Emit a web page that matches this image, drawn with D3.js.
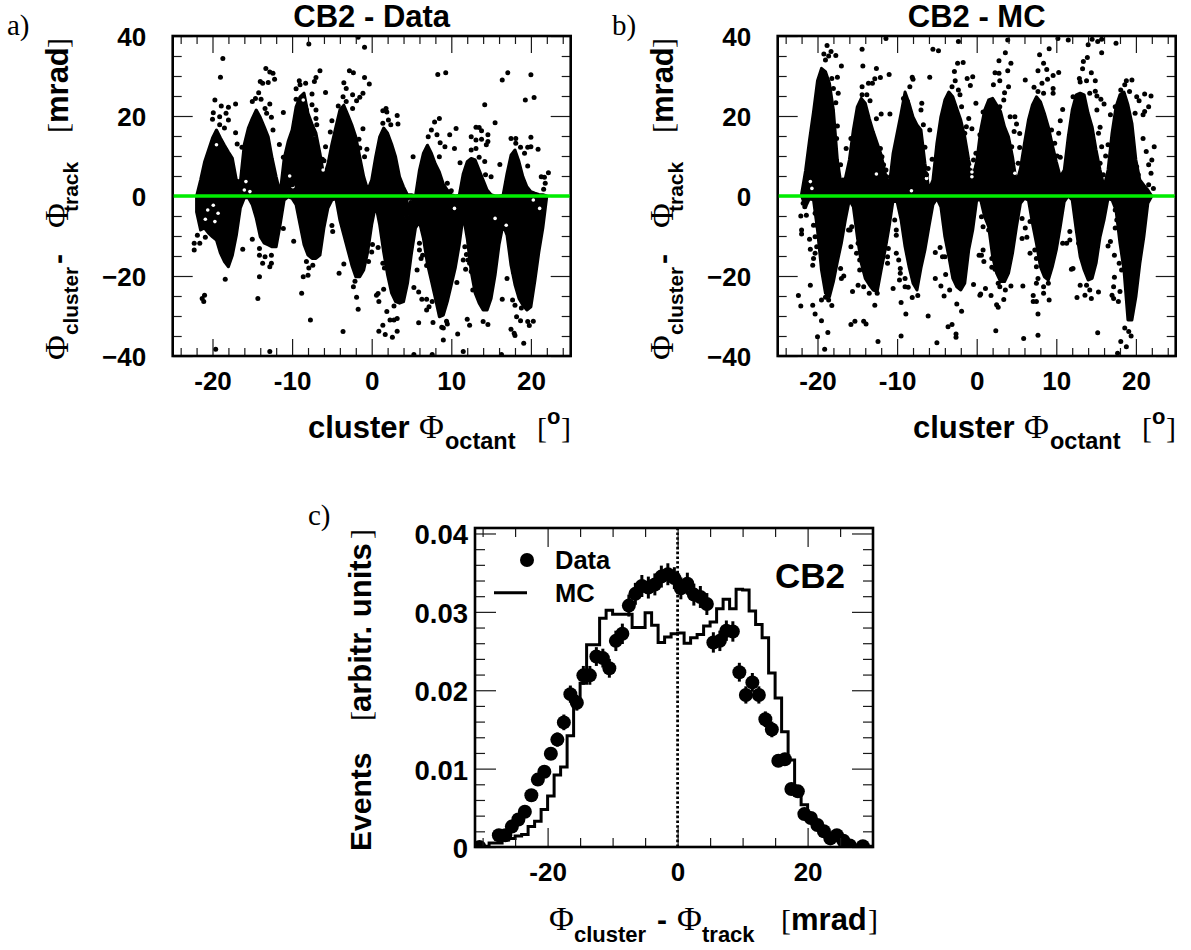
<!DOCTYPE html>
<html><head><meta charset="utf-8">
<script src="https://cdn.jsdelivr.net/npm/d3@7"></script>
<style>html,body{margin:0;padding:0;background:#fff}svg{display:block}</style>
</head><body>
<svg id="chart" width="1191" height="950"></svg>
<script>
// scatter silhouette grid (degrees)
const phiGrid = [-22,-21.5,-21,-20.5,-20,-19.5,-19,-18.5,-18,-17.5,-17,-16.5,-16,-15.5,-15,-14.5,-14,-13.5,-13,-12.5,-12,-11.5,-11,-10.5,-10,-9.5,-9,-8.5,-8,-7.5,-7,-6.5,-6,-5.5,-5,-4.5,-4,-3.5,-3,-2.5,-2,-1.5,-1,-0.5,0,0.5,1,1.5,2,2.5,3,3.5,4,4.5,5,5.5,6,6.5,7,7.5,8,8.5,9,9.5,10,10.5,11,11.5,12,12.5,13,13.5,14,14.5,15,15.5,16,16.5,17,17.5,18,18.5,19,19.5,20,20.5,21,21.5,22];
// panel a: dense cloud, upper and lower edge (mrad)
const dataTop = [0,4,8.5,11.5,14.5,16.5,14.5,12.7,11,9.4,4,3.6,13,17,19.4,21.5,19.7,17.3,14.8,9.4,4.8,0.7,9.4,13.6,16.5,22.3,24.8,25.7,20.7,18,15.7,10.7,4.8,8,13,17.3,21.5,22.7,20.3,17.8,14.8,9.8,4.8,1.5,4,9.8,14.8,17,15.7,13,9.8,4.8,2.3,0.3,0.3,0,6.5,10.7,12.7,10.7,8,6,3,1.5,0.3,0,0.2,5.6,8.6,9.4,9,6.5,4,1.5,0.3,0,0,0.2,5.6,10.2,11.5,8.6,4.8,2.3,1.1,0.7,0.4,0.3,0];
const dataBottom = [-4,-8.5,-8,-9.3,-10.2,-11,-14.3,-16.4,-17.7,-14.8,-9.8,-3,-0.5,-0.4,-2.2,-5.6,-10.2,-11.8,-12.2,-12.7,-12.7,-7.2,-1,-0.2,-0.6,-2.2,-7.2,-12.2,-14.8,-15.6,-15.6,-14.8,-8,-3,-1,-0.6,-6,-9.8,-13.5,-17.3,-20.2,-20.2,-18.5,-14,-7.2,-2.2,-7.2,-14,-19.8,-24.3,-26.4,-26.8,-26.4,-21.8,-14.3,-8,-6.5,-10.6,-17,-21.2,-25.6,-30.2,-29.8,-26.4,-22.2,-18,-12.2,-4.8,-10.6,-18.9,-24.3,-26.8,-28.5,-28.5,-25.6,-19.8,-12.2,-7.2,-9.8,-17.3,-22.2,-25.6,-27.3,-28.5,-27.7,-21.2,-14,-8,0];
const dataGaps = [[-20.9,-5.8],[-19.7,-6.4],[-20.6,-3.5],[-19.3,-4.3],[-19.9,-2.3],[-19.5,12.8],[-7.2,14.4],[-8.6,24],[-15.8,3.6],[-15.3,1.1],[-9.9,2.3],[-6.1,6.5],[4.8,-1.4],[4.4,-5.2],[10.4,-3.1],[15.5,-5.6],[16.9,-7.3],[20.3,-1],[21.1,-3.1],[-16,1.5],[-10.3,5]];
const dataStray = [[-18.7,34.4],[-19,29.7],[-19.7,24],[-19.9,20.8],[-20,19.2],[-19.1,19.8],[-18.9,22.5],[-18,22.2],[-17.1,23],[-18.3,20.7],[-18,19],[-18.5,17],[-19.1,17.8],[-17.1,15.8],[-16.9,13],[-16.3,12.2],[-13.3,31.9],[-12.8,31],[-12.4,30.7],[-12.2,29.2],[-14,28.6],[-13.7,28.2],[-13,28.4],[-14.2,25.8],[-14.6,24.4],[-15,23.6],[-13.9,24.2],[-12.8,23],[-13.4,21.9],[-13.2,20.7],[-12.6,19.7],[-12.4,16.5],[-11.6,12.9],[-11.1,20.9],[-11.1,9.7],[-10,2.8],[-7.9,38],[-6.5,31.3],[-7,29.6],[-7.2,28.6],[-9.1,28.8],[-9.5,26.8],[-9,27.8],[-8.3,28.2],[-7.5,25.5],[-5.8,25.9],[-9.5,24.2],[-8.2,21.5],[-7.5,22.8],[-7,21.5],[-7,19.4],[-6.9,17.8],[-7.2,14.3],[-5,18.8],[-5.2,16],[-5.8,12.3],[-6.2,9.2],[-6,8.8],[-2.8,31.3],[-2.3,30.8],[-3.5,28.3],[-3.2,26.9],[-2.4,25.3],[-1.1,25.7],[-1.5,24.7],[-1.9,23.8],[-0.9,29.6],[-0.3,28],[-3.6,24.8],[-3.2,23.6],[-2.4,21.9],[-4.2,22.5],[-1.7,39.7],[-0.9,37.2],[-1.1,16.8],[-1.6,14.2],[-1.5,12],[-0.6,11.7],[-0.9,9.8],
[8.3,30.4],[9.3,30.8],[16.4,29],[17.1,30.8],[20,30.3],[19.3,24],[20.4,24.6],[14.2,22.8],[15.5,18.3],[1.4,21.3],[1.8,21.9],[1.9,21],[3.2,20.1],[3.3,18],[2.1,19],[1.4,18.2],[2.4,17.8],[8.5,19.4],[7.9,18.5],[10.6,16.9],[9.8,15.3],[7.5,16.5],[8.2,15.3],[7.1,14.8],[8.6,13.3],[9.2,12.3],[10.4,11.9],[5.2,9.8],[11.1,8.3],[8.5,9.8],[9.5,3.2],[10,1.3],[13.1,17.2],[13.5,17.1],[13.8,16.3],[12.5,14.8],[14.6,15.3],[13.1,14],[13.8,14.2],[14.6,13.6],[14.4,12.8],[12.5,11.5],[13.1,11.9],[13.5,9.7],[14.2,8.6],[16.1,7.9],[14.3,5.3],[15,4.8],[17.5,14.4],[18.1,14.4],[20,14.7],[18.7,12.2],[19.6,12.2],[20,12.3],[20.9,11.7],[19.2,10.7],[19.6,7.5],[21.3,4.8],[22.2,5.8],[21.7,4.7],[21.8,3.2],[21.6,1.7],[18.1,13.2],
[-22.3,-13.5],[-22.3,-11.8],[-21.6,-11.8],[-21.9,-9.8],[-20.9,-10.3],[-21,-24.8],[-21.3,-25.6],[-21.1,-26.4],[-18.4,-20.8],[-19.6,-38.3],[-16.2,-13.3],[-15,-10.8],[-14.1,-13.1],[-14.1,-14.8],[-13.4,-15.2],[-12.6,-14.8],[-13.7,-16.8],[-12.6,-16.8],[-12.8,-17.7],[-14.1,-20.2],[-14.3,-25.6],[-12.8,-38.9],[-9.8,-11.3],[-11.1,-8.1],[-8.6,-20.2],[-8,-19.8],[-8.8,-24.3],[-7.7,-31],[-8.2,-16.4],[-7.4,-17.3],[-7.9,-18],[-5,-7.4],[-4.9,-8.9],[-3.5,-17],[-4.1,-19.3],[-3.6,-33.9],[-2.3,-22.7],[-1.9,-25.3],[-1.7,-28.3],[-0.4,-16.4],[-2.1,-21.3],
[0.1,-12.1],[0,-14],[0.8,-12.9],[1.4,-16.8],[1.6,-18],[0.6,-24.8],[0.8,-24.4],[0.9,-26.4],[1.5,-23.3],[2.8,-27.5],[1.9,-28.9],[2.3,-31],[2.8,-31],[3.2,-30.6],[1.4,-32.3],[0.9,-33.8],[1.7,-34.6],[2.6,-35.3],[3.2,-33.8],[5.3,-22.9],[5.9,-24],[5.7,-18.5],[6.3,-25.8],[6.9,-25.8],[7.6,-26.4],[7.2,-27.7],[6.9,-28.5],[5.9,-31.7],[7.7,-31.6],[8.8,-32.8],[9,-33],[9.4,-31.3],[9.5,-32],[10.8,-34.5],[9,-36],[11.5,-38.9],[7.6,-39.6],[5.3,-39.6],[10.7,-21.6],[12,-30.8],[12.3,-32.3],[14,-31.4],[14.6,-32.1],[16.4,-25.8],[16.3,-39.6],[17,-20.6],[17.8,-19],[17.7,-26],[18,-27.3],[18.2,-30.2],[18.7,-31.2],[17.5,-33.3],[17.9,-34.3],[18,-34.9],[19.1,-36.8],[19.6,-31.4],[20.3,-31.3],[19.8,-32.4],[18.8,-28],[6,-11.8],[6,-13.5],[6.4,-14.8],[6.2,-15.6],[6.9,-17.4],[11.7,-12.7],[11.9,-14.6],[11.5,-16],[12.1,-16],[12.3,-16.8],[11.8,-18.3],[12.5,-18.9],[12.7,-23.5],[4.9,-1.6],[4.4,-5.2]];
// panel b: dense cloud, upper and lower edge (mrad)
const mcTop = [0.5,6.4,14.1,21.1,28.8,31.9,31.1,28.2,21.5,9,2.3,4.4,9,16.5,22.3,24.4,23.2,19.4,16.1,13.2,10.3,5.7,2.3,10.7,15.7,20.7,26,23.2,19.8,17.8,16.5,8.2,1.5,4,13.2,19.8,24,26,24.8,21.9,19,14.8,9,4.8,8.6,16.5,21.5,24,24.4,22.8,21.1,17.3,14.8,9.8,3.2,6.9,13.2,19,22.8,24.8,23.6,20.7,17.3,12.8,8.6,4.8,6.5,14.8,21.5,25.3,25.7,25.3,20.7,17.3,11.5,6.5,2.3,6.5,15.7,22.3,25.3,26,22.8,18.2,9,4,2.7,1.5,0];
const mcBottom = [0,-2.7,-0.6,-1,-8.5,-18.5,-24.3,-25.2,-21.4,-16.4,-11.8,-6,-1,-2.7,-10.2,-16.8,-20.6,-22.2,-23.5,-23.9,-18.5,-13.5,-7.7,-1,-1.4,-6,-12.7,-17.7,-21.8,-23.5,-18,-13.5,-7.7,-2.2,-0.6,-2.7,-10.2,-15.2,-20.6,-22.7,-23.5,-21.8,-13.5,-8.5,-1,-1,-5.2,-7.7,-15.2,-19.3,-21.4,-21.4,-19.3,-14.3,-7.7,-1.8,-0.6,-1,-6.8,-11.8,-17.7,-20.2,-21,-17.7,-13.5,-7.7,-1.4,0,-1,-8.5,-15.2,-18.5,-21,-20.6,-16.8,-10.2,-6,-0.6,-1,-3.5,-11.8,-18.5,-31,-31,-25.2,-16.8,-10.2,-1.8,0];
const mcGaps = [[-20.7,1.9],[-20.9,3.6],[-0.6,7.3],[-0.6,6],[-0.6,4.8],[-6.1,6.5],[-6.3,4.4],[4.8,5.7],[-12.6,5.5],[-8.2,1.3]];
const mcStray = [[-18.8,37.6],[-18.3,36.1],[-19.2,35.5],[-18.6,35],[-19,34],[-17.7,35.1],[-17,32.5],[-18.2,29.4],[-17.5,29.7],[-18,26.9],[-17.4,25.7],[-17.7,23.3],[-18.2,21.5],[-17.5,17.5],[-18,15.7],[-17.6,14.4],[-16.4,11.9],[-17.1,7.8],[-15.8,14.4],[-16.8,4],[-14.4,36.7],[-11.4,39.4],[-14.3,32.5],[-12.6,31.9],[-12.8,29.3],[-12.1,29.6],[-11,30.4],[-13.6,28.2],[-14.4,27.3],[-13.1,28.2],[-14.4,25.3],[-13.8,25.3],[-13.4,23.8],[-12,20.5],[-10.9,20.5],[-12.6,19.3],[-12.1,11.9],[-11.9,9.8],[-11.7,7.8],[-11.4,6.5],[-11.3,4.8],[-8.1,29.7],[-8,29.2],[-8.4,27.3],[-9.2,24.4],[-8.7,23.6],[-6.9,23.2],[-7,21.5],[-6.7,17.8],[-5.9,16.5],[-6.5,12.2],[-5.6,9.2],[-6.1,6.9],[-6.3,5.3],[-5.5,36.7],[-4.8,36.3],[-2.3,38.6],[-5.9,29.7],[-2.4,33.2],[-1.7,33.4],[-2.8,31.1],[-2.7,28.8],[-1.2,29.4],[-0.5,29.8],[-0.8,27.6],[-3.1,27.3],[-2.3,26.5],[-2.1,25.3],[-1.9,22.3],[-1,19.4],[-0.6,16.8],[-1.5,15.7],[-1.3,17.3],[0.4,15.3],[-0.1,10.7],[-0.4,9],
[-22.4,-24.9],[-22.1,-27.5],[-21.8,-1.8],[-21.6,-2.7],[-22.1,-5],[-21.4,-4.8],[-20.3,-4.3],[-22,-8.5],[-22,-9.5],[-20.5,-7.3],[-20.1,-7.3],[-21,-10.8],[-20.3,-10.2],[-20.9,-13.3],[-20.1,-12.7],[-20.3,-14.3],[-20.5,-15.6],[-20.6,-17.3],[-20.9,-22.3],[-20.6,-27.3],[-19.5,-26],[-20.3,-29.5],[-19.5,-31.2],[-18.7,-34.1],[-20,-35.2],[-19.1,-38.3],[-18.2,-27.4],[-19,-25.3],[-18.6,-26],[-17,-20.6],[-16.7,-20],[-17.1,-18.1],[-15.8,-32.1],[-15.3,-31.3],[-14.2,-31.3],[-13.9,-32],[-15.6,-23.9],[-14.9,-22.3],[-14.2,-22.7],[-13.5,-24.3],[-12.5,-24.3],[-12.8,-27.3],[-12.4,-36.4],[-15.8,-12.7],[-14.9,-11.8],[-15.1,-14.3],[-14.7,-16],[-14.7,-18.5],[-14.2,-18.5],[-15.9,-8.5],[-16.1,-8.5],[-15.7,-7.7],[-11.1,-13.1],[-11.2,-15.2],[-11.2,-16.8],[-10.1,-14.3],[-10.1,-8.5],[-10.1,-9.8],[-10.3,-6],[-9.8,-16],[-9.6,-18.1],[-9.6,-19.3],[-9.7,-21],[-9,-20.6],[-10.5,-23.1],[-9,-22.7],[-8.6,-22.8],[-9.5,-26.6],[-8.1,-25.4],[-7.4,-24.9],[-8.9,-29.5],[-9.5,-35],[-6.1,-30],[-4.6,-12.9],[-5.2,-14.1],[-4,-15.2],[-4.3,-15.2],[-5.2,-20.6],[-3.9,-19.6],[-4.5,-22.5],[-4.1,-25],[-3.4,-23.5],[-2.5,-27],[-1.9,-28.8],[-3.1,-32.1],[-3.6,-32.7],[-2.6,-34.5],[-2.6,-35.3],[-5,-36.7],[-0.4,-22.1],[0.4,-24.8],[0.3,-14.8],
[3.9,39],[3.6,35.8],[2.8,33.8],[4.3,33.2],[3.9,31.3],[2.3,30.8],[2.8,30.7],[2.9,28.8],[2.1,27.8],[3.5,25.8],[4,27.3],[3.4,24],[6.1,29],[2.9,22.3],[4.2,19.8],[4.8,19.8],[5,18],[4.7,16.1],[5.4,15.6],[4.4,12.3],[5.4,12.1],[5.2,8.2],[0.8,21],[-0.1,23.2],[9.1,36.8],[7.9,35.3],[8.4,33.2],[7.7,31.3],[8.8,31.6],[10.3,30.9],[9.6,30.1],[8.2,28.2],[8.9,29.2],[7.2,27.2],[7.7,26.1],[8.4,25.7],[9.6,26.9],[9.6,25.7],[10.8,21.6],[10.5,18.8],[9.4,16.5],[10.3,15.7],[9.8,13.2],[10.1,10],[10.5,9.7],[10.1,5.7],[10.2,39.4],[11.5,39],[14,37.8],[14.5,39.2],[15.2,38.6],[15.7,39.2],[17.5,38.2],[15.7,35.8],[13.9,34.6],[13.4,33.6],[13.3,31.8],[14.4,30.8],[12.9,29.4],[13.8,28.8],[14.9,28.8],[13,28.5],[14.9,26.2],[15.1,25],[15.6,24.2],[16,23],[15.1,21.5],[14.2,25.7],[12.1,24.8],[15.5,17.2],[15.7,12.3],[16.2,10],[15.5,8.2],[16.5,12.8],[15.3,15.7],[15.9,5.3],[19.5,29],[18.8,28.8],[18.6,27.8],[18.1,26.5],[19.2,26.1],[21.1,25.5],[21.9,25],[20.1,24.8],[20.4,23.8],[21.6,22.3],[21.1,21.1],[19.9,20.7],[20.9,20.3],[17.4,22.3],[16.8,20.3],[22.3,12.3],[21.3,11.1],[20.9,14.4],[22,9],[21.6,7.8],[21.9,5.7],[20.3,5.3],[22.2,1.9],[21.6,2.8],[20.1,7.3],
[0.8,-13.5],[0.6,-14.8],[0.9,-16.4],[1.9,-15.6],[1.9,-17.8],[2.3,-18.3],[0.8,-7.7],[1.5,-8.5],[0.6,-5.2],[1.1,-23.1],[0.5,-24.5],[1.8,-24.9],[2.9,-22.7],[2.7,-21.8],[4.3,-22.5],[3.6,-23.5],[3.4,-25.9],[2.5,-27.2],[2.7,-27.8],[2.4,-33.7],[5.9,-35.6],[5.8,-22.5],[5.7,-10.6],[6.3,-10.3],[6.1,-8],[5.7,-5.6],[6.7,-6.4],[6.7,-14.3],[7.3,-13.5],[7.5,-15.6],[7.5,-17.7],[7.7,-20.6],[7.5,-21.8],[8.4,-22.7],[9,-21.8],[8.4,-24.3],[9.1,-26],[7.1,-24.9],[7.1,-26.4],[7.5,-26.4],[7.7,-29.5],[7.7,-34.8],[10.8,-11.8],[11.3,-11.8],[11.7,-8.9],[11.7,-11],[12.8,-11.8],[12.1,-18.1],[11.9,-18.3],[13,-22.3],[13.8,-22.3],[14.2,-23.5],[15.3,-24],[13.6,-24.8],[12.6,-25.4],[14.4,-25.6],[15.2,-34.2],[16.8,-11.4],[16.5,-12.5],[17.3,-14.8],[17.4,-8],[17.6,-6],[17.4,-3.5],[17.9,-16.8],[18.2,-18.5],[17.3,-20.3],[17.2,-22.7],[18,-23.9],[17,-24.8],[17.2,-25.6],[17.8,-26.4],[18.6,-33],[19.1,-33.9],[19.4,-35],[18.1,-36.4],[18.8,-37.7],[17.7,-39.3]];
// panel c: histogram
const mcBins = [-31.5,-30.5,-29.5,-28.5,-27.5,-26.5,-25.5,-24.5,-23.5,-22.5,-21.5,-20.5,-19.5,-18.5,-17.5,-16.5,-15.5,-14.5,-13.5,-12.5,-11.5,-10.5,-9.5,-8.5,-7.5,-6.5,-5.5,-4.5,-3.5,-2.5,-1.5,-0.5,0.5,1.5,2.5,3.5,4.5,5.5,6.5,7.5,8.5,9.5,10.5,11.5,12.5,13.5,14.5,15.5,16.5,17.5,18.5,19.5,20.5,21.5,22.5,23.5,24.5,25.5,26.5,27.5,28.5,29.5,30.5];
const mcHist = [.0002,.0002,.0001,.0005,.0005,.0009,.0011,.0014,.0016,.0026,.0033,.0048,.0065,.0092,.0102,.0142,.019,.0209,.0258,.0258,.0292,.0302,.0297,.0297,.0297,.028,.028,.0299,.0283,.0261,.0268,.0272,.0273,.026,.0267,.0271,.0282,.0287,.0304,.0316,.0304,.0329,.0328,.0301,.0284,.0267,.0222,.019,.0147,.0111,.0075,.0054,.0041,.003,.0021,.0014,.001,.0006,.0003,.0001,.0004,.0001,.0001];
const dataBins = [-30.5,-27.5,-26.5,-25.5,-24.5,-23.5,-22.5,-21.5,-20.5,-19.5,-18.5,-17.5,-16.5,-15.5,-14.5,-13.5,-12.5,-11.5,-10.5,-9.5,-8.5,-7.5,-6.5,-5.5,-4.5,-3.5,-2.5,-1.5,-0.5,0.5,1.5,2.5,3.5,4.5,5.5,6.5,7.5,8.5,9.5,10.5,11.5,12.5,13.5,14.5,15.5,16.5,17.5,18.5,19.5,20.5,21.5,22.5,23.5,24.5,25.5,26.5,28.5];
const dataHist = [0,.0015,.0015,.0026,.0035,.0045,.0066,.0086,.0096,.0119,.0137,.0159,.0195,.0184,.0219,.0219,.0243,.0241,.0228,.0263,.0272,.0308,.0323,.0333,.0331,.0335,.0345,.0348,.0343,.033,.0336,.0322,.0319,.031,.0261,.0263,.0276,.0275,.0223,.0194,.021,.0194,.0163,.015,.011,.0112,.0074,.0071,.0042,.0037,.0028,.002,.0011,.0015,.0008,.0002,.0001];
const dataErr = [0,.0003,.0003,.0004,.0004,.0005,.0006,.0007,.0008,.0008,.0009,.001,.0011,.001,.0012,.0012,.0012,.0012,.0012,.0013,.0013,.0014,.0014,.0014,.0014,.0014,.0014,.0014,.0014,.0014,.0014,.0014,.0014,.0014,.0013,.0013,.0013,.0013,.0012,.0011,.0012,.0011,.001,.001,.0008,.0008,.0007,.0007,.0005,.0005,.0004,.0004,.0003,.0003,.0002,.0001,.0001];
const xTickA = [-20,-10,0,10,20], xMinorA = [-24,-22,-18,-16,-14,-12,-8,-6,-4,-2,2,4,6,8,12,14,16,18,22,24];
const yTickA = [-40,-20,0,20,40], yMinorA = [-35,-30,-25,-15,-10,-5,5,10,15,25,30,35];
const xTickC = [-20,0,20], xMinorC = [-30,-25,-15,-10,-5,5,10,15,25];
const yTickC = [0,.01,.02,.03,.04], yMinorC = [.002,.004,.006,.008,.012,.014,.016,.018,.022,.024,.026,.028,.032,.034,.036,.038];

const SANS = '"Liberation Sans",Arial,sans-serif', SERIF = '"Liberation Serif",serif';
const svg = d3.select('#chart');
function txt(g,x,y,s,size,fam,weight,anchor){
  return g.append('text').attr('x',x).attr('y',y).text(s).attr('font-size',size)
    .attr('font-family',fam||SANS).attr('font-weight',weight||'bold').attr('text-anchor',anchor||'start').attr('fill','#000');
}
function styleAxis(g){
  g.select('.domain').remove();
  g.selectAll('line').attr('stroke','#1a1a1a').attr('stroke-width',1.2);
  g.selectAll('text').attr('font-family',SANS).attr('font-weight','bold').attr('font-size',26).attr('fill','#000');
}
function frameAxes(g,x,y,cfg){
  const [xl,xr]=x.range(),[yb,yt]=y.range();
  const add=(ax,tx,ty,label)=>{
    const a=g.append('g').attr('transform',`translate(${tx},${ty})`).call(ax);
    styleAxis(a); if(!label)a.selectAll('text').remove(); return a;
  };
  add(d3.axisBottom(x).tickValues(cfg.xMajor).tickSize(-cfg.xLong).tickPadding(cfg.xPad).tickFormat(d3.format('d')),0,yb,true)
    .selectAll('text').text(d=>d);
  add(d3.axisBottom(x).tickValues(cfg.xMinor).tickSize(-cfg.xShort).tickFormat(''),0,yb);
  add(d3.axisTop(x).tickValues(cfg.xMajor).tickSize(-cfg.xLong).tickFormat(''),0,yt);
  add(d3.axisTop(x).tickValues(cfg.xMinor).tickSize(-cfg.xShort).tickFormat(''),0,yt);
  const l=add(d3.axisLeft(y).tickValues(cfg.yMajor).tickSize(-cfg.yLong).tickPadding(cfg.yPad).tickFormat(cfg.yFmt),xl,0,true);
  l.selectAll('text').attr('dy','.38em').attr('font-size',cfg.ySize||26);
  add(d3.axisLeft(y).tickValues(cfg.yMinor).tickSize(-cfg.yShort).tickFormat(''),xl,0);
  add(d3.axisRight(y).tickValues(cfg.yMajor).tickSize(-cfg.yLong).tickFormat(''),xr,0);
  add(d3.axisRight(y).tickValues(cfg.yMinor).tickSize(-cfg.yShort).tickFormat(''),xr,0);
  g.append('rect').attr('x',xl).attr('y',yt).attr('width',xr-xl).attr('height',yb-yt)
    .attr('fill','none').attr('stroke','#000').attr('stroke-width',2.6);
}
function scatterPanel(id,tag,left,title,top,bottom,gaps,stray){
  const g=svg.append('g');
  const x=d3.scaleLinear().domain([-25,25]).range([left,left+398]);
  const y=d3.scaleLinear().domain([-40,40]).range([356,36]);
  const clip=`clip${id}`;
  g.append('clipPath').attr('id',clip).append('rect').attr('x',left).attr('y',36).attr('width',398).attr('height',320);
  const p=g.append('g').attr('clip-path',`url(#${clip})`);
  const area=d3.area().x((d,i)=>x(phiGrid[i])).y0((d,i)=>y(bottom[i])).y1((d,i)=>y(top[i]));
  p.append('path').datum(top).attr('d',area).attr('fill','#000').attr('stroke','#000').attr('stroke-width',3).attr('stroke-linejoin','round');
  p.selectAll('circle.gap').data(gaps).join('circle').attr('class','gap').attr('cx',d=>x(d[0])).attr('cy',d=>y(d[1])).attr('r',1.8).attr('fill','#fff');
  p.selectAll('circle.pt').data(stray).join('circle').attr('class','pt').attr('cx',d=>x(d[0])).attr('cy',d=>y(d[1])).attr('r',2.5).attr('fill','#000');
  frameAxes(g,x,y,{xMajor:xTickA,xMinor:xMinorA,xLong:17,xShort:8,xPad:15.5,yMajor:yTickA,yMinor:yMinorA,yLong:20,yShort:9,yPad:26.5,yFmt:d3.format('d')});
  g.append('line').attr('x1',left+1).attr('x2',left+397).attr('y1',y(0)).attr('y2',y(0)).attr('stroke','#00ee00').attr('stroke-width',3.4);
  txt(g,left+199,27,title,31,SANS,'bold','middle');
  txt(g,left-(172.7-7),35,tag,29,SERIF,'normal');
  // y axis title
  const t=g.append('g').attr('transform',`translate(${left-104.7},360) rotate(-90)`);
  txt(t,0,0,'Φ',34,SERIF,'normal');
  txt(t,25,10,'cluster',20.8);
  txt(t,96,0,'-',30);
  txt(t,132,0,'Φ',34,SERIF,'normal');
  txt(t,148,10,'track',21);
  txt(t,227,0,'[',30,SERIF,'normal');
  txt(t,237,0,'mrad',31);
  txt(t,312,0,']',30,SERIF,'normal');
  // x axis title
  const o=left-172.7;
  txt(g,o+308,438,'cluster',31);
  txt(g,o+419,438,'Φ',34,SERIF,'normal');
  txt(g,o+445,449,'octant',23.5);
  txt(g,o+537,438,'[',30,SERIF,'normal');
  txt(g,o+547,424,'o',22);
  txt(g,o+561,438,']',30,SERIF,'normal');
}
scatterPanel('a','a)',172.7,'CB2 - Data',dataTop,dataBottom,dataGaps,dataStray);
scatterPanel('b','b)',777.7,'CB2 - MC',mcTop,mcBottom,mcGaps,mcStray);

// panel c
(function(){
  const g=svg.append('g');
  const L=475,R=873,T=528,B=847;
  const x=d3.scaleLinear().domain([-31.17,30.06]).range([L,R]);
  const y=d3.scaleLinear().domain([0,.0407]).range([B,T]);
  g.append('clipPath').attr('id','clipc').append('rect').attr('x',L).attr('y',T).attr('width',R-L).attr('height',B-T);
  const p=g.append('g').attr('clip-path','url(#clipc)');
  p.append('line').attr('x1',x(0)).attr('x2',x(0)).attr('y1',B).attr('y2',T).attr('stroke','#000').attr('stroke-width',2.8).attr('stroke-dasharray','2.6,2.2');
  const line=d3.line().x((d,i)=>x(mcBins[i])).y(d=>y(d)).curve(d3.curveStep);
  p.append('path').datum(mcHist).attr('d',line).attr('fill','none').attr('stroke','#000').attr('stroke-width',3);
  p.selectAll('line.err').data(dataHist).join('line').attr('class','err')
    .attr('x1',(d,i)=>x(dataBins[i])).attr('x2',(d,i)=>x(dataBins[i]))
    .attr('y1',(d,i)=>y(d-dataErr[i])).attr('y2',(d,i)=>y(d+dataErr[i])).attr('stroke','#000').attr('stroke-width',3);
  p.selectAll('circle').data(dataHist).join('circle').attr('cx',(d,i)=>x(dataBins[i])).attr('cy',d=>y(d)).attr('r',7).attr('fill','#000');
  frameAxes(g,x,y,{xMajor:xTickC,xMinor:xMinorC,xLong:19,xShort:9,xPad:16,yMajor:yTickC,yMinor:yMinorC,yLong:21,yShort:10,yPad:7,ySize:27.5,yFmt:d3.format('.2f')});
  g.selectAll('text').filter(function(){return this.textContent==='0.00';}).text('0');
  // legend
  g.append('circle').attr('cx',527).attr('cy',560).attr('r',7).attr('fill','#000');
  txt(g,555,569,'Data',25.5);
  g.append('line').attr('x1',494).attr('x2',527).attr('y1',592.7).attr('y2',592.7).attr('stroke','#000').attr('stroke-width',3);
  txt(g,555,601.5,'MC',25.5);
  txt(g,775,588,'CB2',35);
  txt(g,308,525,'c)',29,SERIF,'normal');
  // y title
  const t=g.append('g').attr('transform','translate(371,851) rotate(-90)');
  txt(t,0,0,'Events',30);
  txt(t,130,0,'[',30,SERIF,'normal');
  txt(t,139,0,'arbitr. units',31);
  txt(t,312,0,']',30,SERIF,'normal');
  // x title
  txt(g,549,930,'Φ',34,SERIF,'normal');
  txt(g,574,942,'cluster',22);
  txt(g,657,930,'-',30);
  txt(g,677,930,'Φ',34,SERIF,'normal');
  txt(g,702,942,'track',22);
  txt(g,781,930,'[',30,SERIF,'normal');
  txt(g,791,930,'mrad',31);
  txt(g,868,930,']',30,SERIF,'normal');
})();
</script>
</body></html>
